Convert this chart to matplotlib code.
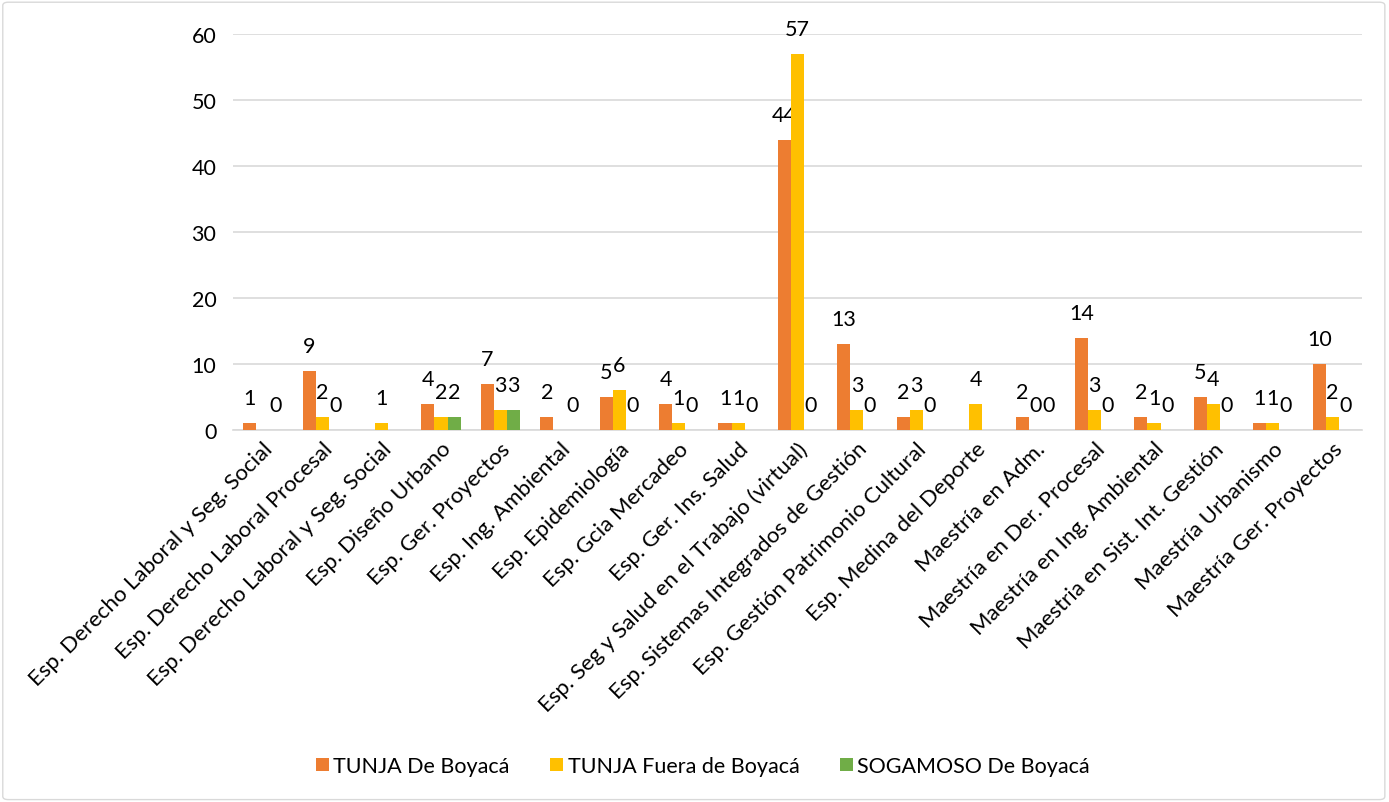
import numpy as np
import matplotlib
matplotlib.use("Agg")
import matplotlib.pyplot as plt
from matplotlib.patches import FancyBboxPatch

plt.rcParams['font.family'] = ['Lato', 'DejaVu Sans']

categories = [
    "Esp. Derecho Laboral y Seg. Social",
    "Esp. Derecho Laboral Procesal",
    "Esp. Derecho Laboral y Seg. Social",
    "Esp. Diseño Urbano",
    "Esp. Ger. Proyectos",
    "Esp. Ing. Ambiental",
    "Esp. Epidemiología",
    "Esp. Gcia Mercadeo",
    "Esp. Ger. Ins. Salud",
    "Esp. Seg y Salud en el Trabajo (virtual)",
    "Esp. Sistemas Integrados de Gestión",
    "Esp. Gestión Patrimonio Cultural",
    "Esp. Medina del Deporte",
    "Maestría en Adm.",
    "Maestría en Der. Procesal",
    "Maestría en Ing. Ambiental",
    "Maestria en Sist. Int. Gestión",
    "Maestría Urbanismo",
    "Maestría Ger. Proyectos",
]
nan = np.nan
tunja_de = [1, 9, nan, 4, 7, 2, 5, 4, 1, 44, 13, 2, nan, 2, 14, 2, 5, 1, 10]
tunja_fuera = [nan, 2, 1, 2, 3, nan, 6, 1, 1, 57, 3, 3, 4, 0, 3, 1, 4, 1, 2]
sogamoso_de = [0, 0, nan, 2, 3, 0, 0, 0, 0, 0, 0, 0, nan, 0, 0, 0, 0, 0, 0]

series = [
    ("TUNJA De Boyacá", tunja_de, "#ED7D31"),
    ("TUNJA Fuera de Boyacá", tunja_fuera, "#FFC000"),
    ("SOGAMOSO De Boyacá", sogamoso_de, "#70AD47"),
]

fig = plt.figure(figsize=(13.89, 8.03), dpi=100)
ax = fig.add_axes([233/1389, 1-431/803, (1362-233)/1389, (431-35)/803])

x = np.arange(len(categories))
w = 0.22
for i, (name, vals, col) in enumerate(series):
    vals = np.array(vals, dtype=float)
    pos = x + (i-1)*w
    ax.bar(pos, np.nan_to_num(vals), width=w, color=col, label=name, zorder=3)
    for p, v in zip(pos, vals):
        if np.isnan(v):
            continue
        ax.annotate(f"{int(v)}", (p, v), xytext=(0, 18), textcoords="offset points",
                    ha="center", va="center", fontsize=15.5, color="#000000")

ax.set_xlim(-0.5, len(categories)-0.5)
ax.set_ylim(0, 60)
ax.set_yticks(range(0, 61, 10))
ax.yaxis.grid(True, color="#D9D9D9", linewidth=1.2, zorder=0)
ax.set_axisbelow(True)
for s in ["top", "right", "left"]:
    ax.spines[s].set_visible(False)
ax.spines["bottom"].set_color("#D9D9D9")
ax.spines["bottom"].set_linewidth(1.2)
ax.tick_params(axis="both", length=0, labelsize=15.5, colors="#000000")
ax.tick_params(axis="y", pad=12)
ax.set_xticks(x)
ax.set_xticklabels(categories, rotation=45, ha="right", rotation_mode="anchor", fontsize=16)
ax.tick_params(axis="x", pad=6)

leg = fig.legend(loc="center", bbox_to_anchor=(703/1389, 1-767/803), ncol=3, frameon=False,
                 fontsize=15.5, handlelength=0.6, handleheight=0.6, columnspacing=1.9, handletextpad=0.2)

fig.patches.append(FancyBboxPatch((0.002, 0.003), 0.995, 0.993, boxstyle="round,pad=0,rounding_size=0.004",
                                  transform=fig.transFigure, fill=False, edgecolor="#D9D9D9", linewidth=1))

fig.savefig("out.png", dpi=100)
